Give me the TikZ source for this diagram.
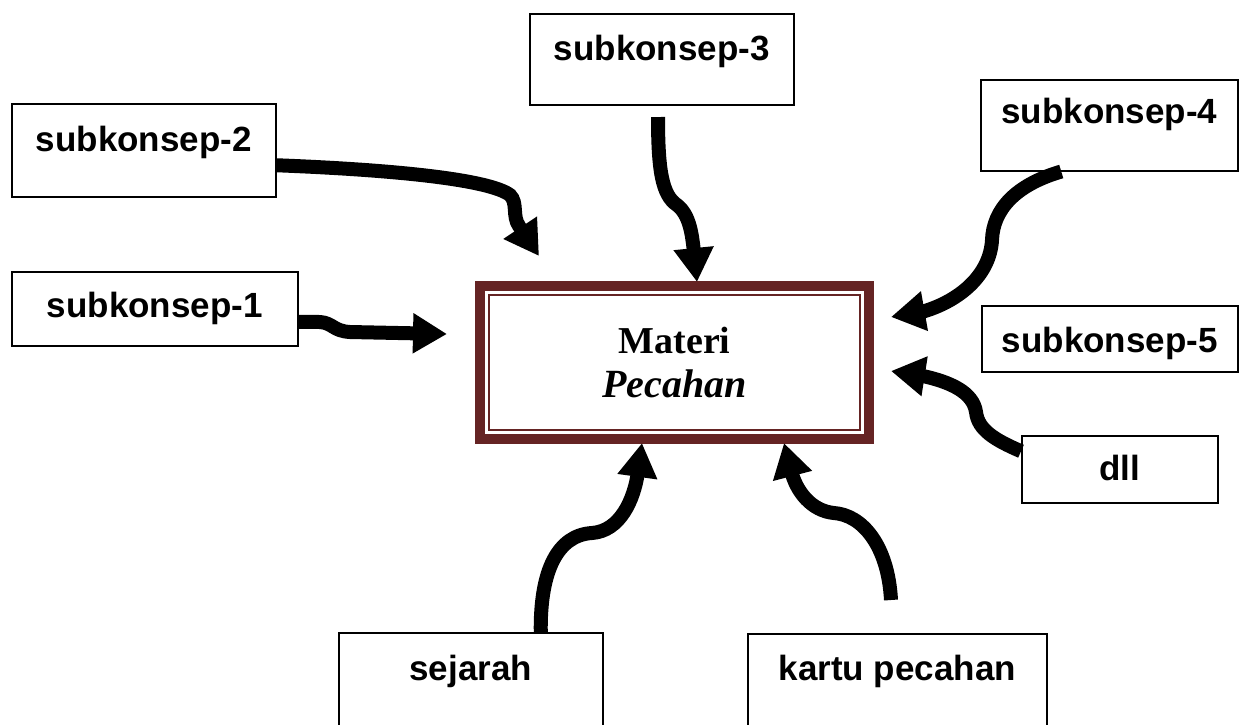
\documentclass[tikz,border=0pt]{standalone}
\usepackage{fontspec}
\setmainfont{Liberation Serif}
\setsansfont{Liberation Sans}
\usetikzlibrary{arrows.meta}
\definecolor{boxbrown}{HTML}{652424}
\begin{document}
\begin{tikzpicture}[x=1pt,y=-1pt,
  box/.style={draw, line width=1.5pt, inner xsep=0pt, inner ysep=0pt, anchor=north west,
    font=\sffamily\bfseries\fontsize{35}{40}\selectfont},
  conn/.style={line width=14pt, -{Triangle[width=38pt,length=34pt]}},
]
\path[use as bounding box] (0,0) rectangle (1249,724);
\clip (0,0) rectangle (1249,724);

% main box
\node[draw=boxbrown, line width=10pt, minimum width=389pt, minimum height=153pt, inner sep=0pt,
      align=center, font=\fontsize{38}{44}\selectfont\bfseries] (m) at (674.5,362.5)
  {Materi\\ \fontsize{40}{44}\selectfont\itshape Pecahan};
\draw[boxbrown, line width=2.5pt] ([shift={(14,14)}]m.north west) rectangle ([shift={(-14,-14)}]m.south east);

% boxes
\node[box, minimum width=286pt, text height=46pt, text depth=28pt] (s1) at (11,271) {subkonsep-1};
\node[box, minimum width=264pt, text height=48pt, text depth=45pt] (s2) at (11,103) {subkonsep-2};
\node[box, minimum width=264pt, text height=47pt, text depth=44pt] (s3) at (529,13) {subkonsep-3};
\node[box, minimum width=257pt, text height=44pt, text depth=47pt] (s4) at (980,79) {subkonsep-4};
\node[box, minimum width=256pt, text height=47pt, text depth=19pt] (s5) at (981,305) {subkonsep-5};
\node[box, minimum width=196pt, text height=45pt, text depth=22pt] (dll) at (1021,435) {dll};
\node[box, minimum width=264pt, text height=48pt, text depth=55pt] (sej) at (338,632) {sejarah};
\node[box, minimum width=299pt, text height=47pt, text depth=55pt] (kp) at (747,633) {kartu pecahan};

% free ends
\coordinate (s3o) at (658,117);
\coordinate (kpo) at (891,600);
\coordinate (t1) at (447,334);
\coordinate (t2) at (539,256);
\coordinate (t3) at (697,282);
\coordinate (t4) at (891,317);
\coordinate (t6) at (891,371);
\coordinate (t7) at (642,443);
\coordinate (t8) at (784,443);

% connectors
\draw[conn] ([yshift=-13pt]s1.east) -- (320,322) .. controls (333,323) and (333,331) .. (350,332) -- (t1);
\draw[conn] ([yshift=-15pt]s2.east) .. controls (400,170) and (490,180) .. (510,195)
   .. controls (518,203) and (512,216) .. (519,226) -- (t2);
\draw[conn] (s3o) .. controls (658,170) and (662,195) .. (677,205)
   .. controls (690,215) and (692,235) .. (694,252) -- (t3);
\draw[conn] ([xshift=-48pt]s4.south) .. controls (1015,185) and (993,210) .. (992,240)
   .. controls (990,275) and (960,300) .. (925,311) -- (t4);
\draw[conn] ([yshift=18pt]dll.west) .. controls (995,440) and (978,430) .. (976,412)
   .. controls (973,392) and (950,382) .. (923,376) -- (t6);
\draw[conn] ([xshift=70pt]sej.north) .. controls (540,570) and (558,535) .. (592,533)
   .. controls (620,531) and (634,500) .. (638,472) -- (t7);
\draw[conn] (kpo) .. controls (888,545) and (862,515) .. (834,513)
   .. controls (812,511) and (796,492) .. (791,470) -- (t8);
\end{tikzpicture}
\end{document}
